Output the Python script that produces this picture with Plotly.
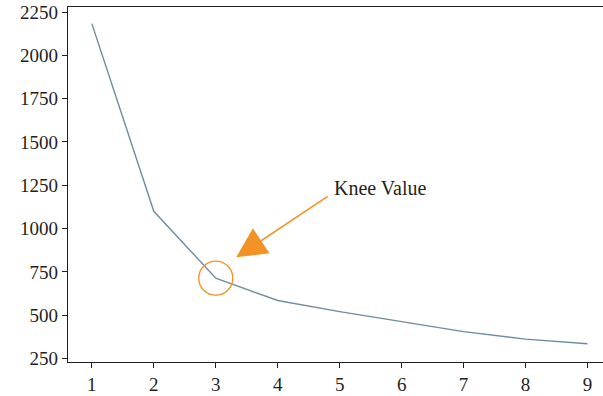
import plotly.graph_objects as go

clusters = [1, 2, 3, 4, 5, 6, 7, 8, 9]
inertia = [2183, 1100, 714, 585, 521, 462, 405, 362, 335]
y_ticks = [250, 500, 750, 1000, 1250, 1500, 1750, 2000, 2250]
knee_x = 3
knee_y = 714
label_text = "Knee Value"

orange = "#f39325"
font_family = "Liberation Serif, DejaVu Serif, serif"

fig = go.Figure()
fig.add_trace(go.Scatter(x=clusters, y=inertia, mode="lines",
                         line=dict(color="#6e8c9c", width=1.4), showlegend=False))

fig.add_shape(type="circle", xref="x", yref="y", xsizemode="pixel", ysizemode="pixel",
              xanchor=knee_x, yanchor=knee_y, x0=-17, x1=17, y0=-17, y1=17,
              line=dict(color=orange, width=1.4))

fig.add_annotation(x=3.33, y=834, ax=93, ay=-62, text="", showarrow=True,
                   arrowhead=2, arrowsize=4, arrowwidth=1.5, arrowcolor=orange,
                   xref="x", yref="y")
fig.add_annotation(x=4.87, y=1232, text=label_text, showarrow=False, xanchor="left",
                   yanchor="middle", font=dict(family=font_family, size=20, color="#231f20"))

fig.update_layout(
    width=603, height=396,
    margin=dict(l=68, r=0, t=7, b=34),
    plot_bgcolor="white", paper_bgcolor="white",
    font=dict(family=font_family, size=19, color="#231f20"),
    xaxis=dict(range=[0.615, 9.25], tickvals=clusters, showgrid=False, zeroline=False,
               showline=True, linecolor="#231f20", linewidth=1.2, mirror=True,
               ticks="outside", ticklen=5, tickcolor="#231f20", tickwidth=1,
               automargin=False, tickfont=dict(size=19)),
    yaxis=dict(range=[230, 2279], tickvals=y_ticks, showgrid=False, zeroline=False,
               showline=True, linecolor="#231f20", linewidth=1.2,
               ticks="outside", ticklen=5, tickcolor="#231f20", tickwidth=1,
               automargin=False, tickfont=dict(size=19)),
)

fig.write_html("out.html", config={"displayModeBar": False},
               post_script="document.body.style.margin='0';document.body.style.padding='0';")
